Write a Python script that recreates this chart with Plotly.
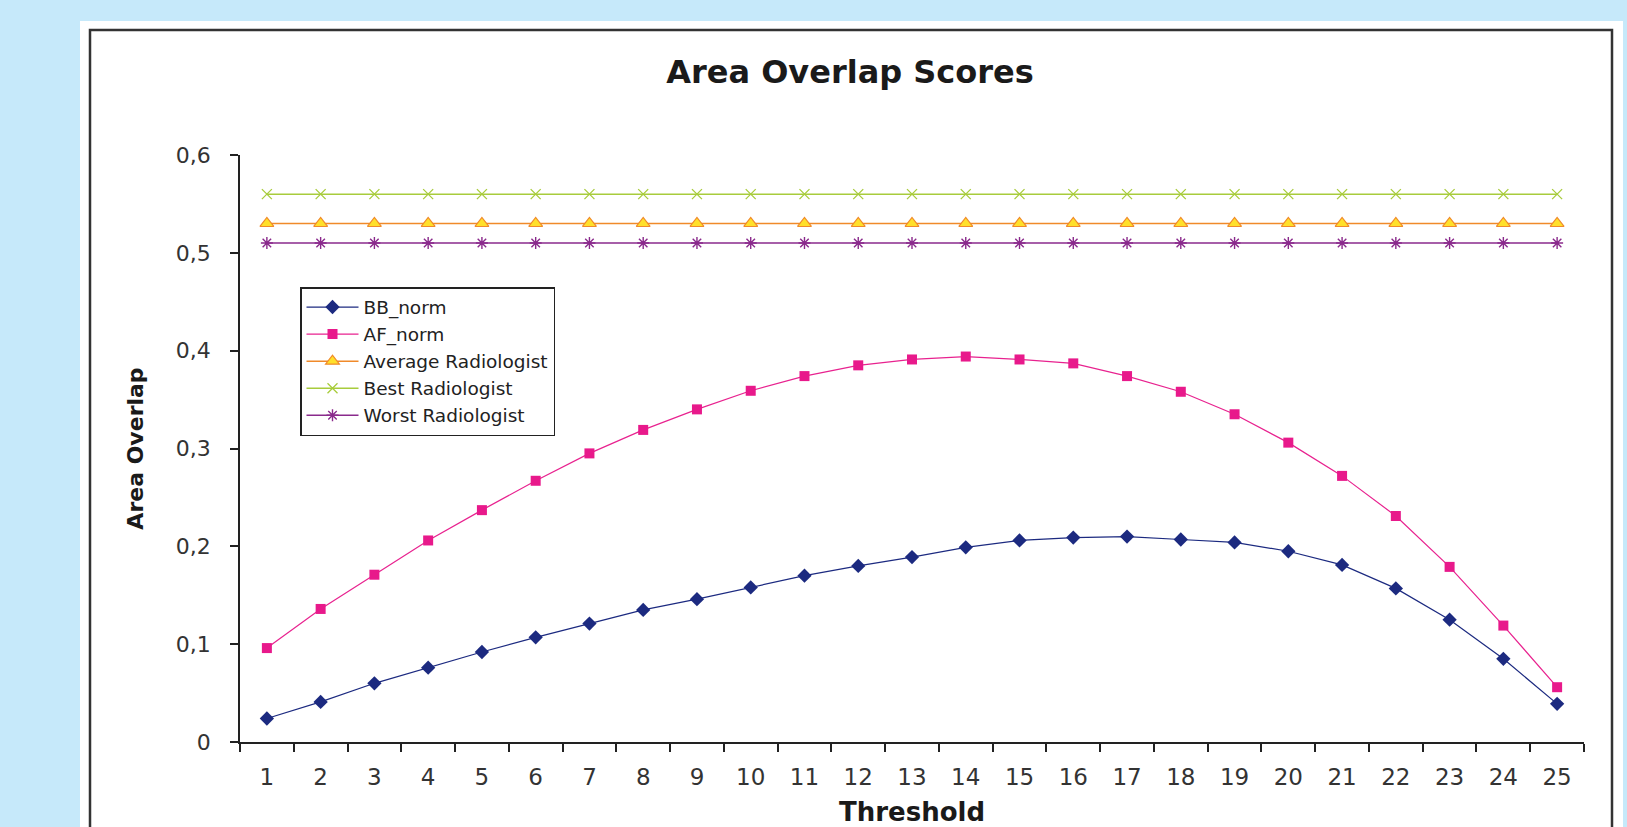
import plotly.graph_objects as go

thresholds = [str(i) for i in range(1, 26)]
bb_norm = [0.024, 0.041, 0.060, 0.076, 0.092, 0.107, 0.121, 0.135, 0.146, 0.158,
           0.170, 0.180, 0.189, 0.199, 0.206, 0.209, 0.210, 0.207, 0.204, 0.195,
           0.181, 0.157, 0.125, 0.085, 0.039]
af_norm = [0.096, 0.136, 0.171, 0.206, 0.237, 0.267, 0.295, 0.319, 0.340, 0.359,
           0.374, 0.385, 0.391, 0.394, 0.391, 0.387, 0.374, 0.358, 0.335, 0.306,
           0.272, 0.231, 0.179, 0.119, 0.056]
average_radiologist = [0.53] * 25
best_radiologist = [0.56] * 25
worst_radiologist = [0.51] * 25
y_tick_vals = [0, 0.1, 0.2, 0.3, 0.4, 0.5, 0.6]
y_tick_text = ["0", "0,1", "0,2", "0,3", "0,4", "0,5", "0,6"]

W, H = 1627, 827
L, R, T, B = 240, 1584, 155, 742
BLUE = "#c6e9fa"


def px(xp):
    return (xp - L) / (R - L)


def py(yp):
    return (B - yp) / (B - T)


FONT = "DejaVu Sans, Liberation Sans, Arial, sans-serif"

fig = go.Figure()
fig.add_trace(go.Scatter(x=thresholds, y=bb_norm, name="BB_norm", mode="lines+markers",
                         line=dict(color="#1c2a80", width=1.2),
                         marker=dict(symbol="diamond", size=11, color="#1c2a80")))
fig.add_trace(go.Scatter(x=thresholds, y=af_norm, name="AF_norm", mode="lines+markers",
                         line=dict(color="#e8228f", width=1.2),
                         marker=dict(symbol="square", size=10, color="#e8198b")))
fig.add_trace(go.Scatter(x=thresholds, y=average_radiologist, name="Average Radiologist",
                         mode="lines+markers",
                         line=dict(color="#f08a2a", width=1.5),
                         marker=dict(symbol="triangle-up", size=12, color="#ffe02a",
                                     line=dict(color="#f08a2a", width=1.2))))
fig.add_trace(go.Scatter(x=thresholds, y=best_radiologist, name="Best Radiologist",
                         mode="lines+markers",
                         line=dict(color="#a8cc3c", width=1.5),
                         marker=dict(symbol="x-thin", size=10, color="#a8cc3c",
                                     line=dict(color="#a8cc3c", width=1.3))))
fig.add_trace(go.Scatter(x=thresholds, y=worst_radiologist, name="Worst Radiologist",
                         mode="lines+markers",
                         line=dict(color="#8a2a8c", width=1.5),
                         marker=dict(symbol="asterisk", size=10, color="#8a2a8c",
                                     line=dict(color="#8a2a8c", width=1.4))))

shapes = [
    dict(type="rect", xref="paper", yref="paper", x0=px(80), x1=px(1623), y0=py(840), y1=py(21),
         fillcolor="white", line=dict(width=0), layer="below"),
    dict(type="rect", xref="paper", yref="paper", x0=px(90), x1=px(1612), y0=py(845), y1=py(30),
         fillcolor="white", line=dict(color="#333333", width=2.5), layer="below"),
]

fig.update_layout(
    width=W, height=H, autosize=False,
    margin=dict(l=L, r=W - R, t=T, b=H - B, pad=0),
    paper_bgcolor=BLUE, plot_bgcolor="white",
    shapes=shapes,
    title=dict(text="Area Overlap Scores", xref="container", yref="container",
               x=850 / W, xanchor="center", y=1 - 72 / H, yanchor="middle",
               font=dict(family=FONT, size=32, color="#1a1a1a", weight="bold")),
    font=dict(family=FONT, color="#333333"),
    showlegend=True,
    legend=dict(x=px(300), y=py(287), xanchor="left", yanchor="top",
                bgcolor="white", bordercolor="#222222", borderwidth=1.5,
                font=dict(family=FONT, size=18.5, color="#222222"),
                tracegroupgap=0, itemwidth=52),
    xaxis=dict(type="category", range=[-0.5, 24.5], showgrid=False, zeroline=False,
               automargin=False,
               showline=True, linecolor="#222222", linewidth=1.5,
               ticks="outside", ticklen=8, tickcolor="#222222", tickwidth=1.5,
               tickson="boundaries", tickfont=dict(family=FONT, size=23, color="#333333"),
               ticklabelstandoff=14,
               title=dict(text="Threshold", standoff=24,
                          font=dict(family=FONT, size=26, color="#1a1a1a", weight="bold"))),
    yaxis=dict(range=[0, 0.6], showgrid=False, zeroline=False,
               automargin=False,
               showline=True, linecolor="#222222", linewidth=1.5,
               ticks="outside", ticklen=8, tickcolor="#222222", tickwidth=1.5,
               tickvals=y_tick_vals, ticktext=y_tick_text,
               tickfont=dict(family=FONT, size=22, color="#333333"),
               ticklabelstandoff=15,
               title=dict(text="Area Overlap", standoff=26,
                          font=dict(family=FONT, size=22, color="#1a1a1a", weight="bold"))),
)

fig.write_html(
    "out.html",
    config={"displayModeBar": False},
    post_script=("document.documentElement.style.margin='0';"
                 "document.body.style.margin='0';"
                 "document.body.style.overflow='hidden';"
                 "document.body.style.background='" + BLUE + "';"),
)
